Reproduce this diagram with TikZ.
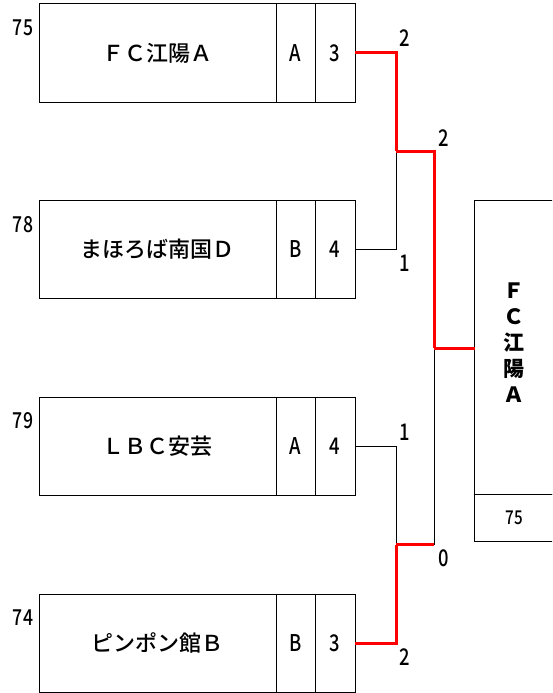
\documentclass[tikz,border=0pt]{standalone}
\usepackage{fontspec}
\setmainfont{Noto Sans CJK JP Medium}
\newfontfamily\narrowfont[FakeStretch=0.8]{Noto Sans CJK JP Medium}
\newfontfamily\champfont{Noto Sans CJK JP}
\usetikzlibrary{positioning}
\tikzset{
	cell/.style={draw,line width=1pt,inner sep=0pt,outer sep=0pt,minimum height=98pt},
	namecell/.style={cell,minimum width=237pt,font=\fontsize{22}{22}\selectfont},
	grpcell/.style={cell,minimum width=39pt,font=\narrowfont\fontsize{23}{23}\selectfont},
	ptcell/.style={cell,minimum width=40pt,font=\narrowfont\fontsize{23}{23}\selectfont},
	seed/.style={inner sep=0pt,font=\narrowfont\fontsize{22}{22}\selectfont},
	lbl/.style={inner sep=0pt,font=\narrowfont\fontsize{23}{23}\selectfont},
	win/.style={draw=red,line width=3pt},
	lose/.style={draw=black,line width=1pt}
}
\begin{document}
\begin{tikzpicture}[x=1pt,y=-1pt]
	\clip (0,0) rectangle (552,693);
	\node[namecell,anchor=north west] (n1) at (39,4) {ＦＣ江陽Ａ};
	\node[grpcell,right=0pt of n1] (g1) {A};
	\node[ptcell,right=0pt of g1] (p1) {3};
	\node[seed] (s1) at (23,28) {75};
	\node[namecell,anchor=north west] (n2) at (39,200.5) {まほろば南国Ｄ};
	\node[grpcell,right=0pt of n2] (g2) {B};
	\node[ptcell,right=0pt of g2] (p2) {4};
	\node[seed] (s2) at (23,225) {78};
	\node[namecell,anchor=north west] (n3) at (39,397) {ＬＢＣ安芸};
	\node[grpcell,right=0pt of n3] (g3) {A};
	\node[ptcell,right=0pt of g3] (p3) {4};
	\node[seed] (s3) at (23,421) {79};
	\node[namecell,anchor=north west] (n4) at (39,594) {ピンポン館Ｂ};
	\node[grpcell,right=0pt of n4] (g4) {B};
	\node[ptcell,right=0pt of g4] (p4) {3};
	\node[seed] (s4) at (23,618) {74};
	\node[cell,anchor=north west,minimum width=79pt,minimum height=294pt] (champ) at (474.5,200.3) {};
	\node[cell,below=0pt of champ,minimum width=79pt,minimum height=46.7pt,font=\narrowfont\fontsize{19}{19}\selectfont] (cseed) {75};
	\node[inner sep=0pt,align=center,font=\champfont\bfseries\fontsize{21}{26}\selectfont] (cname) at (514,342.5) {Ｆ\\Ｃ\\江\\陽\\Ａ};
	\coordinate (m1) at (396,151.25);
	\coordinate (m2) at (396,544.5);
	\coordinate (m2r) at (434,544.5);
	\coordinate (f) at (434,348);
	\draw[lose] (p2.east) -| (m1);
	\draw[lose] (p3.east) -| (m2);
	\draw[lose] (m2r) -- (f);
	\draw[win] (p1.east) -| (m1);
	\draw[win] (m1) -| (f);
	\draw[win] (p4.east) -| (m2);
	\draw[win] (m2) -- (m2r);
	\draw[win] (f) -- (f -| champ.west);
	\node[lbl] (r1) at (405,38) {2};
	\node[lbl] (r2) at (405,263) {1};
	\node[lbl] (r3) at (405,432) {1};
	\node[lbl] (r4) at (405,657) {2};
	\node[lbl] (q1) at (444,138) {2};
	\node[lbl] (q2) at (444,558) {0};
\end{tikzpicture}
\end{document}
